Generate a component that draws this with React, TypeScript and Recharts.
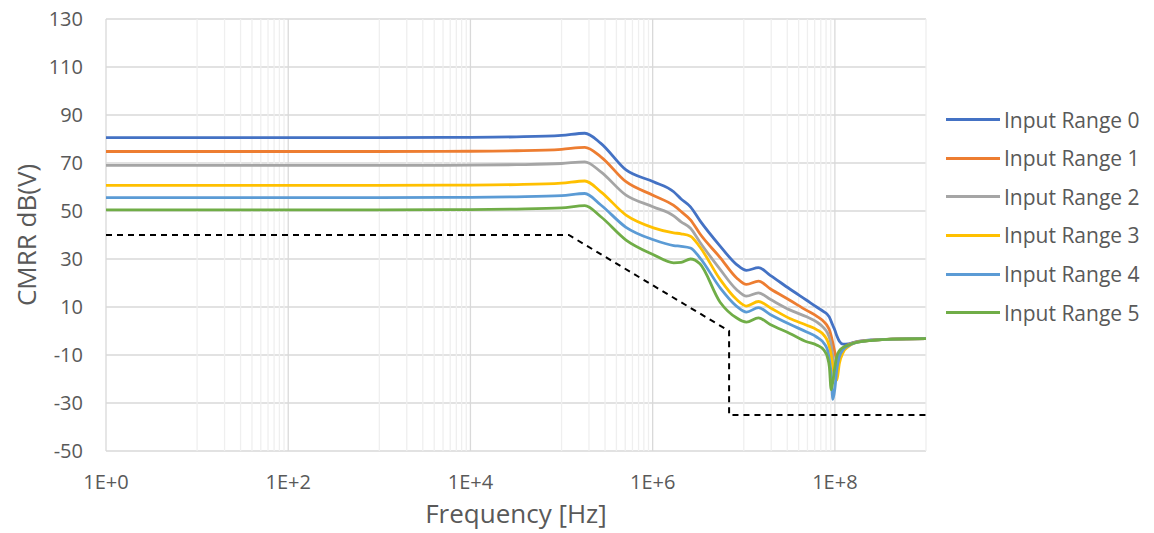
import React from "react";
import { LineChart, Line, XAxis, YAxis, CartesianGrid, ReferenceLine, Legend, Label } from "recharts";

const FONT = "'Open Sans', sans-serif";
const TEXT = "#595959";
const GRID_MAJOR = "#d9d9d9";
const GRID_MINOR = "#efefef";

// frequency points in Hz
const FREQ = [
  1, 1e3, 1e4, 3.2e4, 1e5, 1.8e5, 2.7e5, 5.1e5, 1.02e6, 1.7e6, 2.05e6, 2.6e6, 3.3e6, 5.5e6, 8.3e6,
  1.07e7, 1.45e7, 1.95e7, 3.2e7, 4.9e7, 6.3e7, 7.6e7, 8.3e7, 8.7e7, 9.1e7, 9.5e7, 1e8, 1.05e8,
  1.12e8, 1.23e8, 1.4e8, 1.66e8, 2.6e8, 4.3e8, 1e9,
];

const RANGE_0 = [
  80.6, 80.6, 80.7, 80.9, 81.5, 82.4, 78.2, 67.1, 62.2, 58.0, 55.0, 51.7, 46.0, 35.4, 27.8, 25.3,
  26.4, 23.2, 17.5, 12.8, 10.0, 8.0, 6.8, 5.8, 4.0, 2.3, 0.3, -2.0, -4.3, -5.5, -5.4, -4.6, -3.7,
  -3.4, -3.2,
];
const RANGE_1 = [
  74.8, 74.8, 74.9, 75.1, 75.7, 76.5, 72.6, 62.2, 56.5, 52.3, 49.8, 46.3, 40.5, 30.6, 22.2, 19.4,
  20.8, 17.6, 12.8, 8.6, 6.2, 3.8, 2.0, 0.5, -2.0, -5.0, -9.0, -12.0, -9.5, -7.2, -5.7, -4.7, -3.8,
  -3.4, -3.2,
];
const RANGE_2 = [
  69.0, 69.0, 69.1, 69.3, 69.8, 70.5, 66.3, 56.6, 51.7, 48.0, 45.5, 42.8, 37.0, 25.7, 17.3, 14.5,
  15.9, 13.2, 8.8, 5.9, 3.8, 1.2, -0.8, -2.8, -5.8, -10.5, -16.5, -15.0, -10.5, -7.8, -6.0, -4.8,
  -3.8, -3.4, -3.2,
];
const RANGE_3 = [
  60.7, 60.7, 60.8, 61.0, 61.6, 62.5, 58.0, 48.3, 43.0, 40.9, 40.5, 39.5, 35.0, 21.5, 13.2, 10.4,
  12.3, 9.7, 5.2, 2.4, 0.6, -1.8, -4.2, -6.6, -10.0, -15.0, -19.5, -20.5, -13.5, -9.0, -6.5, -5.0,
  -3.9, -3.4, -3.2,
];
const RANGE_4 = [
  55.6, 55.6, 55.7, 55.9, 56.4, 57.3, 52.5, 43.2, 38.0, 35.6, 35.3, 34.6, 30.5, 18.0, 10.4, 7.9,
  9.7, 6.9, 2.8, -0.4, -2.5, -5.2, -8.0, -12.0, -18.0, -28.5, -24.0, -16.0, -10.7, -7.8, -6.2,
  -5.0, -3.9, -3.4, -3.2,
];
const RANGE_5 = [
  50.5, 50.5, 50.6, 50.8, 51.3, 52.2, 47.6, 37.9, 31.8, 28.4, 28.6, 30.0, 28.0, 12.0, 5.5, 3.7,
  5.5, 2.7, -1.0, -4.5, -5.8, -8.0, -11.0, -15.0, -24.5, -21.0, -15.0, -10.5, -8.2, -6.8, -5.9,
  -4.9, -3.9, -3.4, -3.2,
];

// spec limit (dashed)
const LIMIT_FREQ = [1, 1.2e5, 6.9e6, 6.9e6, 1e9];
const LIMIT_DB = [40, 40, 0, -35, -35];

const SERIES_NAMES = [
  "Input Range 0",
  "Input Range 1",
  "Input Range 2",
  "Input Range 3",
  "Input Range 4",
  "Input Range 5",
];
const COLORS = ["#4472C4", "#ED7D31", "#A5A5A5", "#FFC000", "#5B9BD5", "#70AD47"];
const SERIES = [RANGE_0, RANGE_1, RANGE_2, RANGE_3, RANGE_4, RANGE_5];

const Y_TICKS = [-50, -30, -10, 10, 30, 50, 70, 90, 110, 130];
const X_TICKS = [1, 1e2, 1e4, 1e6, 1e8];

const MAJOR_GRID = [1, 1e2, 1e4, 1e6, 1e8];
const MINOR_GRID: number[] = [];
for (const p of [1, 3, 5, 7]) {
  for (let j = 1; j <= 9; j++) MINOR_GRID.push(j * Math.pow(10, p));
}
MINOR_GRID.push(1e9);

const rows = FREQ.map((f, i) => {
  const row: Record<string, number> = { f };
  SERIES.forEach((s, k) => {
    row[`r${k}`] = s[i];
  });
  return row;
});
const limitRows = LIMIT_FREQ.map((f, i) => ({ f, limit: LIMIT_DB[i] }));

const fmtExp = (v: number) => `1E+${Math.round(Math.log10(v))}`;

const renderLegend = () => (
  <div style={{ fontFamily: FONT, fontSize: 21, color: TEXT }}>
    {SERIES_NAMES.map((n, i) => (
      <div key={n} style={{ display: "flex", alignItems: "center", height: 38.6 }}>
        <span
          style={{ display: "inline-block", width: 54, height: 0, borderTop: `3px solid ${COLORS[i]}`, marginRight: 4 }}
        />
        <span style={{ whiteSpace: "nowrap" }}>{n}</span>
      </div>
    ))}
  </div>
);

const XTitle = (props: any) => {
  const vb = props.viewBox;
  return (
    <text x={vb.x + vb.width / 2} y={vb.y + 72} textAnchor="middle" fill={TEXT} fontSize={26} fontFamily={FONT}>
      Frequency [Hz]
    </text>
  );
};

const YTitle = (props: any) => {
  const vb = props.viewBox;
  const cy = vb.y + vb.height / 2;
  return (
    <text
      x={36}
      y={cy}
      transform={`rotate(-90, 36, ${cy})`}
      textAnchor="middle"
      fill={TEXT}
      fontSize={26}
      fontFamily={FONT}
    >
      CMRR dB(V)
    </text>
  );
};

export default function App() {
  return (
    <div style={{ position: "absolute", left: 0, top: 0, width: 1154, height: 533, background: "#fff" }}>
      <LineChart width={1154} height={533} data={rows} margin={{ top: 19, right: 228, bottom: 0, left: 0 }}>
        <CartesianGrid vertical={false} stroke={GRID_MAJOR} strokeWidth={1.3} />
        {MINOR_GRID.map((f) => (
          <ReferenceLine key={`mi${f}`} x={f} stroke={GRID_MINOR} strokeWidth={1.3} />
        ))}
        {MAJOR_GRID.map((f) => (
          <ReferenceLine key={`ma${f}`} x={f} stroke={GRID_MAJOR} strokeWidth={1.3} />
        ))}
        <XAxis
          dataKey="f"
          type="number"
          scale="log"
          domain={[1, 1e9]}
          ticks={X_TICKS}
          interval={0}
          tickFormatter={fmtExp}
          axisLine={false}
          tickLine={false}
          tickMargin={18}
          height={82}
          tick={{ fill: TEXT, fontSize: 20, fontFamily: FONT }}
        >
          <Label content={XTitle} />
        </XAxis>
        <YAxis
          type="number"
          domain={[-50, 130]}
          ticks={Y_TICKS}
          interval={0}
          axisLine={false}
          tickLine={false}
          tickMargin={17}
          width={106}
          tick={{ fill: TEXT, fontSize: 20, fontFamily: FONT }}
        >
          <Label content={YTitle} />
        </YAxis>
        <Line
          data={limitRows}
          dataKey="limit"
          type="linear"
          stroke="#000"
          strokeWidth={2}
          strokeDasharray="6 5"
          dot={false}
          activeDot={false}
          isAnimationActive={false}
          legendType="none"
        />
        {SERIES.map((_, k) => (
          <Line
            key={k}
            dataKey={`r${k}`}
            name={SERIES_NAMES[k]}
            type="monotone"
            stroke={COLORS[k]}
            strokeWidth={2.8}
            dot={false}
            activeDot={false}
            isAnimationActive={false}
          />
        ))}
        <Legend
          layout="vertical"
          align="center"
          verticalAlign="middle"
          content={renderLegend}
          wrapperStyle={{ left: 946, top: 100.4, width: 208 }}
        />
      </LineChart>
    </div>
  );
}
